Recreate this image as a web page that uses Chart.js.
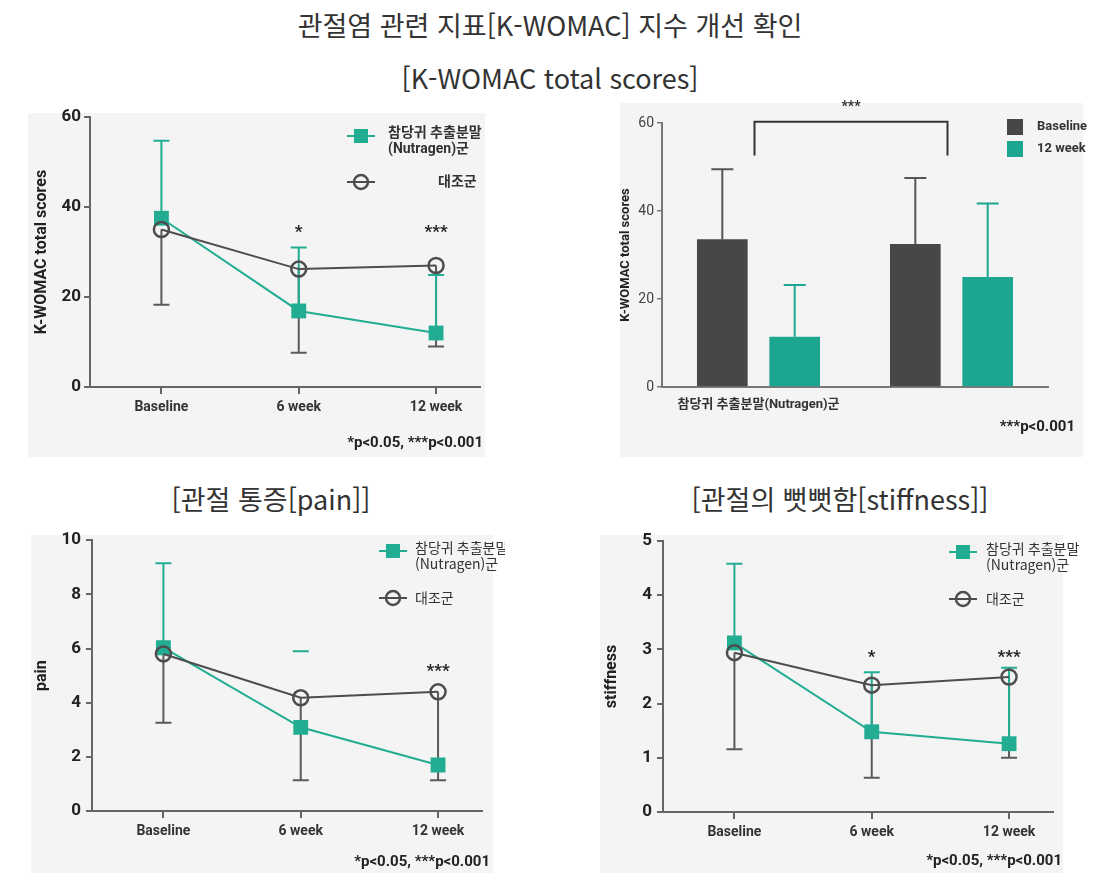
<!DOCTYPE html>
<html lang="ko">
<head>
<meta charset="UTF-8">
<title>K-WOMAC 지수 개선</title>
<script src="https://cdn.jsdelivr.net/npm/chart.js"></script>
<style>
  body { margin: 0; background: #fff; width: 1101px; height: 885px; position: relative; overflow: hidden; font-family: 'Noto Sans CJK KR', sans-serif; }
  .ttl { position: absolute; font-size: 27px; line-height: 36px; color: #333; white-space: nowrap; transform: translateX(-50%); }
  .panel { position: absolute; background: #f4f4f4; }
  canvas { position: absolute; }
</style>
</head>
<body>
<div class="ttl" style="left:550px; top:7px;">관절염 관련 지표[K-WOMAC] 지수 개선 확인</div>
<div class="ttl" style="left:550px; top:60px;">[K-WOMAC total scores]</div>
<div class="ttl" style="left:271px; top:481px;">[관절 통증[pain]]</div>
<div class="ttl" style="left:840px; top:481px;">[관절의 뻣뻣함[stiffness]]</div>

<div class="panel" style="left:28px; top:113px; width:457px; height:344px;"></div>
<div class="panel" style="left:620px; top:103px; width:463px; height:354px;"></div>
<div class="panel" style="left:31px; top:535px; width:462px; height:338px;"></div>
<div class="panel" style="left:600px; top:535px; width:463px; height:338px;"></div>

<canvas id="womac" width="475" height="360" style="left:20px; top:100px;"></canvas>
<canvas id="bars" width="480" height="370" style="left:610px; top:95px;"></canvas>
<canvas id="pain" width="485" height="360" style="left:20px; top:525px;"></canvas>
<canvas id="stiff" width="500" height="360" style="left:590px; top:525px;"></canvas>

<script>
// ---- data ----
const weeks = ['Baseline', '6 week', '12 week'];

// K-WOMAC total scores
const womacNutra = [37.5, 16.9, 12.0];
const womacNutraErr = [54.7, 31.0, 24.9];
const womacCtrl = [35.0, 26.2, 27.0];
const womacCtrlErr = [18.3, 7.6, 9.0];
const womacSig = ['', '*', '***'];
const womacTicks = [0, 20, 40, 60];

// pain
const painNutra = [6.03, 3.09, 1.70];
const painNutraErr = [9.15, 5.9, null];
const painCtrl = [5.8, 4.18, 4.4];
const painCtrlErr = [3.26, 1.14, 1.14];
const painSig = ['', '', '***'];
const painTicks = [0, 2, 4, 6, 8, 10];

// stiffness
const stiffNutra = [3.12, 1.48, 1.26];
const stiffNutraErr = [4.58, 2.58, 2.66];
const stiffCtrl = [2.94, 2.34, 2.49];
const stiffCtrlErr = [1.16, 0.63, 1.0];
const stiffSig = ['', '*', '***'];
const stiffTicks = [0, 1, 2, 3, 4, 5];

// bar chart: baseline vs 12 week
const barGroups = ['참당귀 추출분말(Nutragen)군', ''];
const barBaseline = [33.6, 32.5];
const barBaselineErr = [49.5, 47.5];
const bar12wk = [11.4, 25.0];
const bar12wkErr = [23.2, 41.7];

const nutraLabel = '참당귀 추출분말\n(Nutragen)군';
const ctrlLabel = '대조군';

const TEAL = '#22ad93';
const BAR_TEAL = '#1da68f';
const GRAY = '#4d4d4d';
const BAR_GRAY = '#474747';
const NARROW = "'Roboto', 'Noto Sans CJK KR', sans-serif";
const KR = "'Noto Sans CJK KR', sans-serif";

// error bars drawn under the markers
const errorBars = {
    id: 'errorBars',
    beforeDatasetsDraw(chart) {
        const ctx = chart.ctx;
        const y = chart.scales.y;
        chart.data.datasets.forEach((ds, di) => {
            if (!ds.err) return;
            const meta = chart.getDatasetMeta(di);
            ctx.save();
            ctx.strokeStyle = ds.errColor;
            ctx.lineWidth = 2;
            ds.err.forEach((e, i) => {
                if (e == null) return;
                const el = meta.data[i];
                const ye = y.getPixelForValue(e);
                ctx.beginPath();
                if (!(ds.capOnly || []).includes(i)) {
                    ctx.moveTo(el.x, el.y);
                    ctx.lineTo(el.x, ye);
                }
                ctx.moveTo(el.x - ds.capW, ye);
                ctx.lineTo(el.x + ds.capW, ye);
                ctx.stroke();
            });
            ctx.restore();
        });
    }
};

// stars, legend, footnote, bracket
function makeAnnot(a) {
    return {
        id: 'annot',
        afterDraw(chart) {
            const ctx = chart.ctx;
            const x = chart.scales.x, y = chart.scales.y;
            ctx.save();
            if (a.sig) {
                ctx.font = 'bold 17px ' + NARROW;
                ctx.fillStyle = '#222';
                ctx.textAlign = 'center';
                ctx.textBaseline = 'middle';
                a.sig.forEach((s, i) => {
                    if (s) ctx.fillText(s, x.getPixelForValue(i), y.getPixelForValue(a.sigAt));
                });
            }
            if (a.bracket) {
                const b = a.bracket;
                const x0 = x.getPixelForValue(0) + b.dx, x1 = x.getPixelForValue(1) + b.dx;
                const yt = y.getPixelForValue(b.top), yb = y.getPixelForValue(b.bottom);
                ctx.strokeStyle = '#333';
                ctx.lineWidth = 2;
                ctx.beginPath();
                ctx.moveTo(x0, yb); ctx.lineTo(x0, yt); ctx.lineTo(x1, yt); ctx.lineTo(x1, yb);
                ctx.stroke();
                ctx.font = 'bold 14px ' + NARROW;
                ctx.fillStyle = '#333';
                ctx.textAlign = 'center';
                ctx.textBaseline = 'middle';
                ctx.fillText(b.label, (x0 + x1) / 2, yt - 14);
            }
            if (a.legend) {
                const L = a.legend;
                L.items.forEach(it => {
                    const ds = chart.data.datasets[it.ds];
                    if (L.box) {
                        ctx.fillStyle = ds.backgroundColor;
                        ctx.fillRect(L.mx - 8, it.y - 8, 16, 16);
                    } else {
                        ctx.strokeStyle = ds.borderColor;
                        ctx.lineWidth = 2;
                        ctx.beginPath();
                        ctx.moveTo(L.mx - 14, it.y); ctx.lineTo(L.mx + 14, it.y);
                        ctx.stroke();
                        if (ds.pointStyle === 'rect') {
                            ctx.fillStyle = ds.borderColor;
                            ctx.fillRect(L.mx - 7, it.y - 7, 14, 14);
                        } else {
                            ctx.lineWidth = 2.5;
                            ctx.beginPath();
                            ctx.arc(L.mx, it.y, 7, 0, Math.PI * 2);
                            ctx.stroke();
                        }
                    }
                    ctx.font = L.font;
                    ctx.fillStyle = '#333';
                    ctx.textAlign = 'left';
                    ctx.textBaseline = 'middle';
                    const lines = ds.label.split('\n');
                    const tx = it.tx != null ? it.tx : L.tx;
                    const ty = lines.length > 1 ? it.y - 3 : it.y;
                    lines.forEach((t, k) => ctx.fillText(t, tx, ty + k * L.lh));
                });
            }
            if (a.note) {
                ctx.font = a.note.font;
                ctx.fillStyle = '#222';
                ctx.textAlign = 'right';
                ctx.textBaseline = 'middle';
                ctx.fillText(a.note.text, a.note.x, a.note.y);
            }
            ctx.restore();
        }
    };
}

function lineChart(id, o) {
    return new Chart(document.getElementById(id), {
        type: 'line',
        data: {
            datasets: [
                {
                    label: ctrlLabel, data: o.ctrl.map((v, i) => ({ x: i, y: v })),
                    borderColor: GRAY, borderWidth: 2, order: 0,
                    pointStyle: 'circle', pointRadius: 7.5, pointBorderWidth: 2.5,
                    pointBorderColor: GRAY, pointBackgroundColor: 'rgba(0,0,0,0)',
                    err: o.ctrlErr, errColor: '#5a5a5a', capW: 8
                },
                {
                    label: nutraLabel, data: o.nutra.map((v, i) => ({ x: i, y: v })),
                    borderColor: TEAL, borderWidth: 2, order: 1,
                    pointStyle: 'rect', pointRadius: 10.5, pointBorderWidth: 0,
                    pointBackgroundColor: TEAL,
                    err: o.nutraErr, errColor: TEAL, capW: 8, capOnly: o.capOnly
                }
            ]
        },
        options: {
            responsive: false,
            animation: false,
            events: [],
            layout: { padding: o.pad },
            plugins: { legend: { display: false }, tooltip: { enabled: false } },
            scales: {
                x: {
                    type: 'linear', min: -0.52, max: 2.32,
                    afterBuildTicks: s => { s.ticks = weeks.map((w, i) => ({ value: i })); },
                    afterFit: s => { s.height = 40; },
                    ticks: { callback: v => weeks[v], color: '#333', padding: 5, maxRotation: 0, autoSkip: false,
                             font: { family: NARROW, size: 14, weight: 'bold' } },
                    grid: { drawOnChartArea: false, tickLength: 7, color: '#666', lineWidth: 2 },
                    border: { color: '#666', width: 2 }
                },
                y: {
                    min: o.ticks[0], max: o.ticks[o.ticks.length - 1],
                    afterBuildTicks: s => { s.ticks = o.ticks.map(v => ({ value: v })); },
                    afterFit: s => { s.width = o.yw; },
                    ticks: { color: '#222', padding: o.ypad, font: { family: NARROW, size: 17, weight: 'bold' } },
                    grid: { drawOnChartArea: false, tickLength: 6, color: '#666', lineWidth: 2 },
                    border: { color: '#666', width: 2 },
                    title: { display: true, text: o.ytitle, color: '#222', padding: 0,
                             font: { family: NARROW, size: 16, weight: 'bold' } }
                }
            }
        },
        plugins: [errorBars, makeAnnot(o.annot)]
    });
}

lineChart('womac', {
    nutra: womacNutra, nutraErr: womacNutraErr, ctrl: womacCtrl, ctrlErr: womacCtrlErr,
    ticks: womacTicks, ytitle: 'K-WOMAC total scores',
    pad: { left: 12, top: 17, right: 15, bottom: 33 }, yw: 58, ypad: 3,
    annot: {
        sig: womacSig, sigAt: 34.2,
        legend: { mx: 341, tx: 368, lh: 16, font: 'bold 14px ' + NARROW,
                  items: [{ ds: 1, y: 36 }, { ds: 0, y: 82, tx: 418 }] },
        note: { text: '*p<0.05, ***p<0.001', x: 463, y: 343, font: 'bold 15px ' + NARROW }
    }
});

lineChart('pain', {
    nutra: painNutra, nutraErr: painNutraErr, ctrl: painCtrl, ctrlErr: painCtrlErr, capOnly: [1],
    ticks: painTicks, ytitle: 'pain',
    pad: { left: 12, top: 15, right: 23, bottom: 34 }, yw: 60, ypad: 5,
    annot: {
        sig: painSig, sigAt: 5.15,
        legend: { mx: 373, tx: 395, lh: 16, font: '14px ' + KR,
                  items: [{ ds: 1, y: 26 }, { ds: 0, y: 73 }] },
        note: { text: '*p<0.05, ***p<0.001', x: 470, y: 337, font: 'bold 15px ' + NARROW }
    }
});

lineChart('stiff', {
    nutra: stiffNutra, nutraErr: stiffNutraErr, ctrl: stiffCtrl, ctrlErr: stiffCtrlErr,
    ticks: stiffTicks, ytitle: 'stiffness',
    pad: { left: 12, top: 16, right: 37, bottom: 33 }, yw: 61, ypad: 5,
    annot: {
        sig: stiffSig, sigAt: 2.85,
        legend: { mx: 373, tx: 396, lh: 16, font: '14px ' + KR,
                  items: [{ ds: 1, y: 27 }, { ds: 0, y: 74 }] },
        note: { text: '*p<0.05, ***p<0.001', x: 472, y: 336, font: 'bold 15px ' + NARROW }
    }
});

new Chart(document.getElementById('bars'), {
    type: 'bar',
    data: {
        labels: barGroups,
        datasets: [
            { label: 'Baseline', data: barBaseline, backgroundColor: BAR_GRAY,
              err: barBaselineErr, errColor: '#555', capW: 11 },
            { label: '12 week', data: bar12wk, backgroundColor: BAR_TEAL,
              err: bar12wkErr, errColor: BAR_TEAL, capW: 11 }
        ]
    },
    options: {
        responsive: false,
        animation: false,
        events: [],
        categoryPercentage: 0.75,
        barPercentage: 0.70,
        layout: { padding: { left: 8, top: 28, right: 42, bottom: 38 } },
        plugins: { legend: { display: false }, tooltip: { enabled: false } },
        scales: {
            x: {
                afterFit: s => { s.height = 40; },
                ticks: { color: '#333', padding: 10, maxRotation: 0, autoSkip: false,
                         font: { family: NARROW, size: 13, weight: 'bold' } },
                grid: { drawOnChartArea: false, drawTicks: false, color: '#777' },
                border: { color: '#777', width: 2 }
            },
            y: {
                min: 0, max: 60,
                afterBuildTicks: s => { s.ticks = womacTicks.map(v => ({ value: v })); },
                afterFit: s => { s.width = 44; },
                ticks: { color: '#444', padding: 3, font: { family: NARROW, size: 14 } },
                grid: { drawOnChartArea: false, tickLength: 5, color: '#777', lineWidth: 1.5 },
                border: { color: '#777', width: 2 },
                title: { display: true, text: 'K-WOMAC total scores', color: '#222', padding: 0,
                         font: { family: NARROW, size: 13, weight: 'bold' } }
            }
        }
    },
    plugins: [errorBars, makeAnnot({
        bracket: { top: 60.3, bottom: 52.6, dx: -4, label: '***' },
        legend: { box: true, mx: 405, tx: 427, lh: 16, font: 'bold 13px ' + NARROW,
                  items: [{ ds: 0, y: 32 }, { ds: 1, y: 54 }] },
        note: { text: '***p<0.001', x: 465, y: 332, font: 'bold 15px ' + NARROW }
    })]
});
</script>
</body>
</html>
